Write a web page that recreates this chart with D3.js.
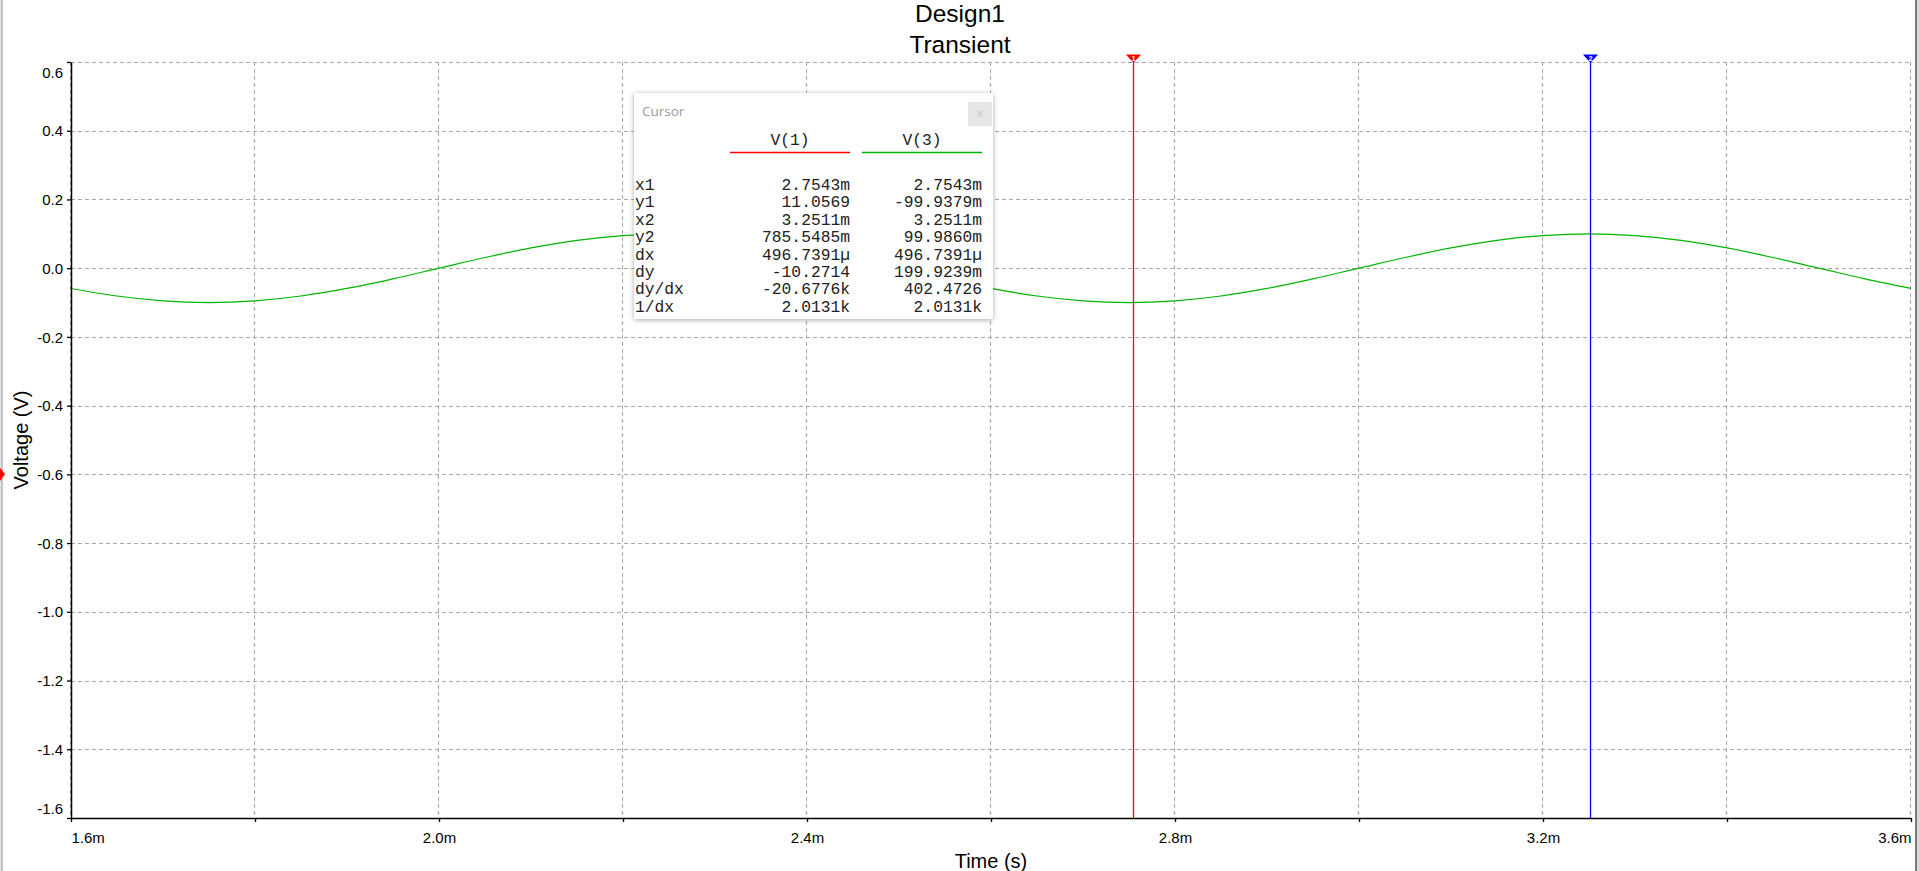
<!DOCTYPE html>
<html>
<head>
<meta charset="utf-8">
<script src="https://cdn.jsdelivr.net/npm/d3@7"></script>
<style>
  html, body { margin: 0; padding: 0; background: #fff; overflow: hidden; }
  svg { display: block; }
</style>
</head>
<body>
<svg id="chart" width="1920" height="871"></svg>
<script>
// ---------- data ----------
const titleLines = ["Design1", "Transient"];
const xLabel = "Time (s)";
const yLabel = "Voltage (V)";

// time in ms, V(3) in volts
const timeMs = [1.60,1.65,1.70,1.75,1.80,1.85,1.90,1.95,2.00,2.05,2.10,2.15,2.20,2.25,2.30,2.35,2.40,2.45,2.50,2.55,2.60,2.65,2.70,2.75,2.80,2.85,2.90,2.95,3.00,3.05,3.10,3.15,3.20,3.25,3.30,3.35,3.40,3.45,3.50,3.55,3.60];
const v3 = [-0.059,-0.081,-0.095,-0.100,-0.095,-0.081,-0.059,-0.031,0.000,0.031,0.059,0.081,0.095,0.100,0.095,0.081,0.059,0.031,0.000,-0.031,-0.059,-0.081,-0.095,-0.100,-0.095,-0.081,-0.059,-0.031,0.000,0.031,0.059,0.081,0.095,0.100,0.095,0.081,0.059,0.031,0.000,-0.031,-0.059];

const xTicks = [1.6,1.8,2.0,2.2,2.4,2.6,2.8,3.0,3.2,3.4,3.6];
const xTickLabels = ["1.6m","","2.0m","","2.4m","","2.8m","","3.2m","","3.6m"];
const yTicks = [0.6,0.4,0.2,0.0,-0.2,-0.4,-0.6,-0.8,-1.0,-1.2,-1.4,-1.6];
const yTickLabels = ["0.6","0.4","0.2","0.0","-0.2","-0.4","-0.6","-0.8","-1.0","-1.2","-1.4","-1.6"];

const cursorTimes = [2.7543, 3.2511];
const cursorNames = ["1", "2"];
const cursorColors = ["#ff0000", "#0000ff"];

const tableSeries = ["V(1)", "V(3)"];
const tableSeriesColors = ["#ff0000", "#00b400"];
const tableRowLabels = ["x1","y1","x2","y2","dx","dy","dy/dx","1/dx"];
const tableV1 = ["2.7543m","11.0569","3.2511m","785.5485m","496.7391\u00b5","-10.2714","-20.6776k","2.0131k"];
const tableV3 = ["2.7543m","-99.9379m","3.2511m","99.9860m","496.7391\u00b5","199.9239m","402.4726","2.0131k"];

// ---------- layout ----------
const W = 1920, H = 871;
const plot = { left: 71, right: 1911, top: 62, bottom: 818 };

const svg = d3.select("#chart");
const defs = svg.append("defs");
defs.append("clipPath").attr("id", "clip").append("rect")
  .attr("x", plot.left).attr("y", plot.top)
  .attr("width", plot.right - plot.left).attr("height", plot.bottom - plot.top);
const f = defs.append("filter").attr("id", "shadow")
  .attr("x", "-10%").attr("y", "-10%").attr("width", "120%").attr("height", "120%");
f.append("feDropShadow").attr("dx", 0).attr("dy", 1).attr("stdDeviation", 2.5)
  .attr("flood-color", "#000").attr("flood-opacity", 0.35);

const x = d3.scaleLinear().domain([1.6, 3.6]).range([plot.left, plot.right]);
const y = d3.scaleLinear().domain([-1.6, 0.6]).range([plot.bottom, plot.top]);

// window borders
svg.append("rect").attr("x", 0).attr("y", 0).attr("width", 1).attr("height", H).attr("fill", "#e2e2e2");
svg.append("rect").attr("x", 1).attr("y", 0).attr("width", 2).attr("height", H).attr("fill", "#c4c4c4");
svg.append("rect").attr("x", 1915).attr("y", 0).attr("width", 2).attr("height", H).attr("fill", "#7a7a7a");
svg.append("rect").attr("x", 1917).attr("y", 0).attr("width", 3).attr("height", H).attr("fill", "#d8d8d8");

// title
svg.append("g").selectAll("text").data(titleLines).join("text")
  .attr("x", 960).attr("y", (d, i) => 22 + i * 30.5)
  .attr("text-anchor", "middle")
  .attr("font-family", "Arial, 'Liberation Sans', sans-serif")
  .attr("font-size", 24.5).attr("fill", "#000")
  .text(d => d);

// grid
const grid = svg.append("g").attr("stroke", "#a9a9a9").attr("stroke-width", 1)
  .attr("stroke-dasharray", "4,3").attr("shape-rendering", "crispEdges");
grid.selectAll("line.h").data(yTicks).join("line").attr("class", "h")
  .attr("x1", plot.left).attr("x2", plot.right)
  .attr("y1", d => Math.round(y(d)) + 0.5).attr("y2", d => Math.round(y(d)) + 0.5);
grid.selectAll("line.v").data(xTicks).join("line").attr("class", "v")
  .attr("x1", d => Math.round(x(d)) - 0.5).attr("x2", d => Math.round(x(d)) - 0.5)
  .attr("y1", plot.top).attr("y2", plot.bottom);

// trace
const line = d3.line().x((d, i) => x(timeMs[i])).y(d => y(d)).curve(d3.curveMonotoneX);
svg.append("path").datum(v3)
  .attr("clip-path", "url(#clip)")
  .attr("d", line).attr("fill", "none")
  .attr("stroke", "#00b400").attr("stroke-width", 1.2);

// axes
const yAxis = d3.axisLeft(y).tickValues(yTicks).tickSize(4).tickSizeOuter(0).tickPadding(4)
  .tickFormat((d, i) => yTickLabels[i]);
const gy = svg.append("g").attr("transform", `translate(${plot.left},0)`).call(yAxis);
gy.selectAll("text").attr("font-family", "Arial, 'Liberation Sans', sans-serif")
  .attr("font-size", 15).attr("fill", "#000")
  .attr("dy", (d, i) => i === 0 ? "1.05em" : (i === yTicks.length - 1 ? "-0.28em" : "0.34em"));
gy.selectAll("line").attr("stroke", "#000").attr("stroke-width", 1.3);
gy.select(".domain").attr("stroke", "#000").attr("stroke-width", 1.5);

const xAxis = d3.axisBottom(x).tickValues(xTicks).tickSize(4).tickSizeOuter(0).tickPadding(10)
  .tickFormat((d, i) => xTickLabels[i]);
const gx = svg.append("g").attr("transform", `translate(0,${plot.bottom})`).call(xAxis);
gx.selectAll("text").attr("font-family", "Arial, 'Liberation Sans', sans-serif")
  .attr("font-size", 15).attr("fill", "#000")
  .attr("text-anchor", (d, i) => i === 0 ? "start" : (i === xTicks.length - 1 ? "end" : "middle"));
gx.selectAll("line").attr("stroke", "#000").attr("stroke-width", 1.3);
gx.select(".domain").attr("stroke", "#000").attr("stroke-width", 1.5);

// axis titles
svg.append("text").attr("x", (plot.left + plot.right) / 2).attr("y", 868)
  .attr("text-anchor", "middle")
  .attr("font-family", "Arial, 'Liberation Sans', sans-serif").attr("font-size", 20)
  .text(xLabel);
svg.append("text").attr("transform", `translate(28,${(plot.top + plot.bottom) / 2}) rotate(-90)`)
  .attr("text-anchor", "middle")
  .attr("font-family", "Arial, 'Liberation Sans', sans-serif").attr("font-size", 20)
  .text(yLabel);

// left trace marker (diamond at -0.6)
svg.append("path")
  .attr("transform", `translate(-1,${y(-0.6)})`)
  .attr("d", "M0,-8 L6,0 L0,8 L-6,0 Z").attr("fill", "#ff0000");

// cursors
const cur = svg.append("g").selectAll("g").data(cursorTimes).join("g");
cur.append("line")
  .attr("x1", d => Math.round(x(d)) + 0.5).attr("x2", d => Math.round(x(d)) + 0.5)
  .attr("y1", plot.top).attr("y2", plot.bottom)
  .attr("stroke", (d, i) => cursorColors[i]).attr("stroke-width", 1.3);
cur.append("path")
  .attr("d", d => { const cx = Math.round(x(d)) + 0.5; return `M${cx - 7.5},54.5 L${cx + 7.5},54.5 L${cx},63 Z`; })
  .attr("fill", (d, i) => cursorColors[i]);
cur.append("text")
  .attr("x", d => Math.round(x(d)) + 0.5).attr("y", 61)
  .attr("text-anchor", "middle")
  .attr("font-family", "Arial, 'Liberation Sans', sans-serif").attr("font-size", 7.5).attr("font-weight", "bold")
  .attr("fill", "#fff").text((d, i) => cursorNames[i]);

// cursor panel
const box = { x: 634, y: 93, w: 359, h: 226 };
const pg = svg.append("g");
pg.append("rect").attr("x", box.x).attr("y", box.y).attr("width", box.w).attr("height", box.h)
  .attr("fill", "#fff").attr("filter", "url(#shadow)");
pg.append("text").attr("x", 642).attr("y", 116)
  .attr("font-family", "'Open Sans', 'Noto Sans', sans-serif").attr("font-size", 13.5)
  .attr("fill", "#9a9a9a").text("Cursor");
pg.append("rect").attr("x", 968).attr("y", 102).attr("width", 24).attr("height", 24).attr("fill", "#e6e6e6");
pg.append("text").attr("x", 980).attr("y", 118.5).attr("text-anchor", "middle")
  .attr("font-family", "'Open Sans', sans-serif").attr("font-size", 14).attr("fill", "#c8c8c8").text("\u00d7");

const mono = "'Courier New', 'Liberation Mono', monospace";
const colCenter = [790, 922];
const colRight = [850, 982];
const colUnder = [[730, 850], [862, 982]];
pg.selectAll("text.hdr").data(tableSeries).join("text").attr("class", "hdr")
  .attr("x", (d, i) => colCenter[i]).attr("y", 145)
  .attr("text-anchor", "middle").attr("font-family", mono).attr("font-size", 16.3)
  .attr("fill", "#222").text(d => d);
pg.selectAll("line.ul").data(tableSeries).join("line").attr("class", "ul")
  .attr("x1", (d, i) => colUnder[i][0]).attr("x2", (d, i) => colUnder[i][1])
  .attr("y1", 152.5).attr("y2", 152.5)
  .attr("stroke", (d, i) => tableSeriesColors[i]).attr("stroke-width", 1.5);

const rowY = i => 190 + i * 17.4;
pg.selectAll("text.rl").data(tableRowLabels).join("text").attr("class", "rl")
  .attr("x", 635).attr("y", (d, i) => rowY(i))
  .attr("font-family", mono).attr("font-size", 16.3).attr("fill", "#222").text(d => d);
[tableV1, tableV3].forEach((col, c) => {
  pg.selectAll(`text.c${c}`).data(col).join("text").attr("class", `c${c}`)
    .attr("x", colRight[c]).attr("y", (d, i) => rowY(i))
    .attr("text-anchor", "end")
    .attr("font-family", mono).attr("font-size", 16.3).attr("fill", "#222").text(d => d);
});
</script>
</body>
</html>
